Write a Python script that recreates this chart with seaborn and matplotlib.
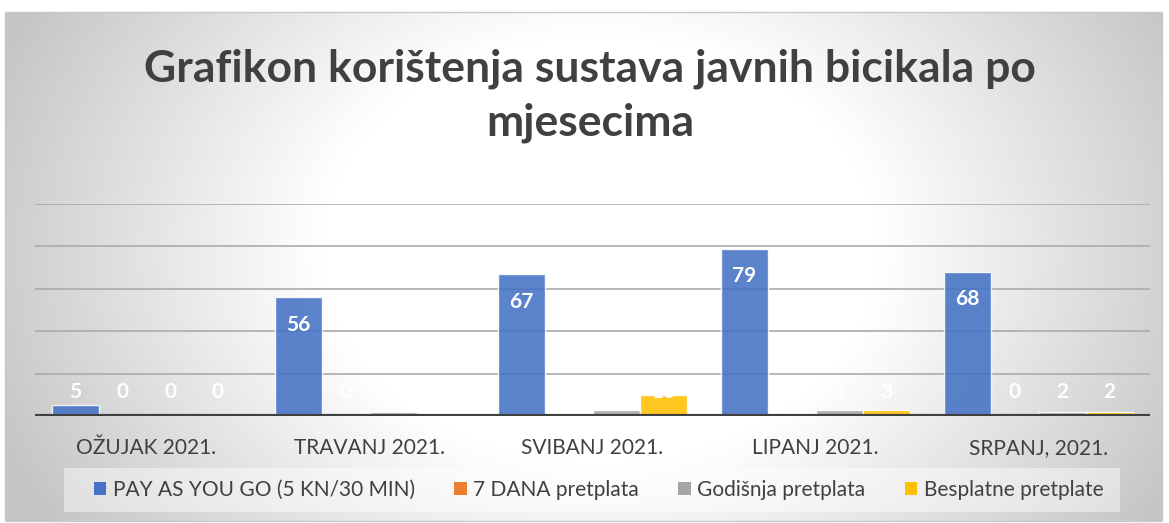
import numpy as np
import pandas as pd
import matplotlib
matplotlib.use('Agg')
import matplotlib.pyplot as plt
from matplotlib.patches import Rectangle
import seaborn as sns

months = ["OŽUJAK 2021.", "TRAVANJ 2021.", "SVIBANJ 2021.", "LIPANJ 2021.", "SRPANJ, 2021."]
series = ["PAY AS YOU GO (5 KN/30 MIN)", "7 DANA pretplata", "Godišnja pretplata", "Besplatne pretplate"]
pay_as_you_go = [5, 56, 67, 79, 68]
dana7 = [0, 0, 0, 0, 0]
godisnja = [0, 2, 3, 3, 2]
besplatne = [0, 0, 10, 3, 2]
colors = ["#4472C4", "#ED7D31", "#A5A5A5", "#FFC000"]

rows = []
for name, vals in zip(series, [pay_as_you_go, dana7, godisnja, besplatne]):
    for m, v in zip(months, vals):
        rows.append({"month": m, "series": name, "value": v})
df = pd.DataFrame(rows)

sns.set_style("white")
plt.rcParams['font.family'] = ['Lato', 'DejaVu Sans']

fig = plt.figure(figsize=(11.69, 5.23), dpi=100)
W, H = 1169, 523

# radial gradient background in the chart frame
bg = fig.add_axes([5 / W, 1 - 521 / H, 1157 / W, 509 / H])
xx, yy = np.meshgrid(np.linspace(5, 1162, 400), np.linspace(12, 521, 200))
d = np.sqrt((xx - 600) ** 2 + ((yy - 250) * 1.3) ** 2)
t = np.clip((d - 280) / 380, 0, 1)
g = 1 - (1 - 196 / 255) * t
bg.imshow(np.dstack([g, g, g]), aspect='auto', extent=[0, 1, 0, 1])
bg.set_axis_off()
fig.patches.append(Rectangle((5 / W, 1 - 521 / H), 1157 / W, 509 / H, transform=fig.transFigure,
                             fill=False, edgecolor="#c8c8c8", lw=1))

ax = fig.add_axes([35 / W, 1 - 416 / H, 1115 / W, 212 / H])
ax.patch.set_alpha(0)
sns.barplot(data=df, x="month", y="value", hue="series", palette=colors, width=0.85,
            ax=ax, legend=False, saturation=1)
for c in ax.containers:
    for p in c:
        p.set_alpha(0.88)
ax.set_ylim(0, 100)
ax.set_xlim(-0.5, 4.5)
for y in [20, 40, 60, 80, 100]:
    ax.axhline(y, color="#ababab", lw=1.2, zorder=0)
ax.axhline(0, color="#404040", lw=3, zorder=5)
for s in ax.spines.values():
    s.set_visible(False)
ax.set_yticks([])
ax.set_xlabel("")
ax.set_ylabel("")
ax.tick_params(axis='x', length=0, pad=16, labelsize=15, labelcolor="#404040")

for c, vals in zip(ax.containers, [pay_as_you_go, dana7, godisnja, besplatne]):
    for p, v in zip(c, vals):
        ax.text(p.get_x() + p.get_width() / 2, max(v - 13, 11.3), str(v), ha="center", va="center",
                color="white", fontsize=15, fontweight="bold", zorder=6)

fig.text(0.505, 1 - 96 / H, "Grafikon korištenja sustava javnih bicikala po\nmjesecima", ha="center", va="center",
         fontsize=32, fontweight="bold", color="#404040", linespacing=1.42)

# legend
fig.patches.append(Rectangle((64 / W, 1 - 512 / H), 1056 / W, 44 / H, transform=fig.transFigure,
                             facecolor="white", alpha=0.45, edgecolor="none"))
handles = [Rectangle((0, 0), 1, 1, facecolor=c, edgecolor="none") for c in colors]
fig.legend(handles, series, loc="center", bbox_to_anchor=(0.512, 1 - 490 / H), ncol=4, frameon=False,
           prop={'size': 15}, labelcolor="#404040",
           handlelength=0.6, handleheight=0.6, handletextpad=0.3, columnspacing=1.9)

fig.savefig("out.png", dpi=100)
